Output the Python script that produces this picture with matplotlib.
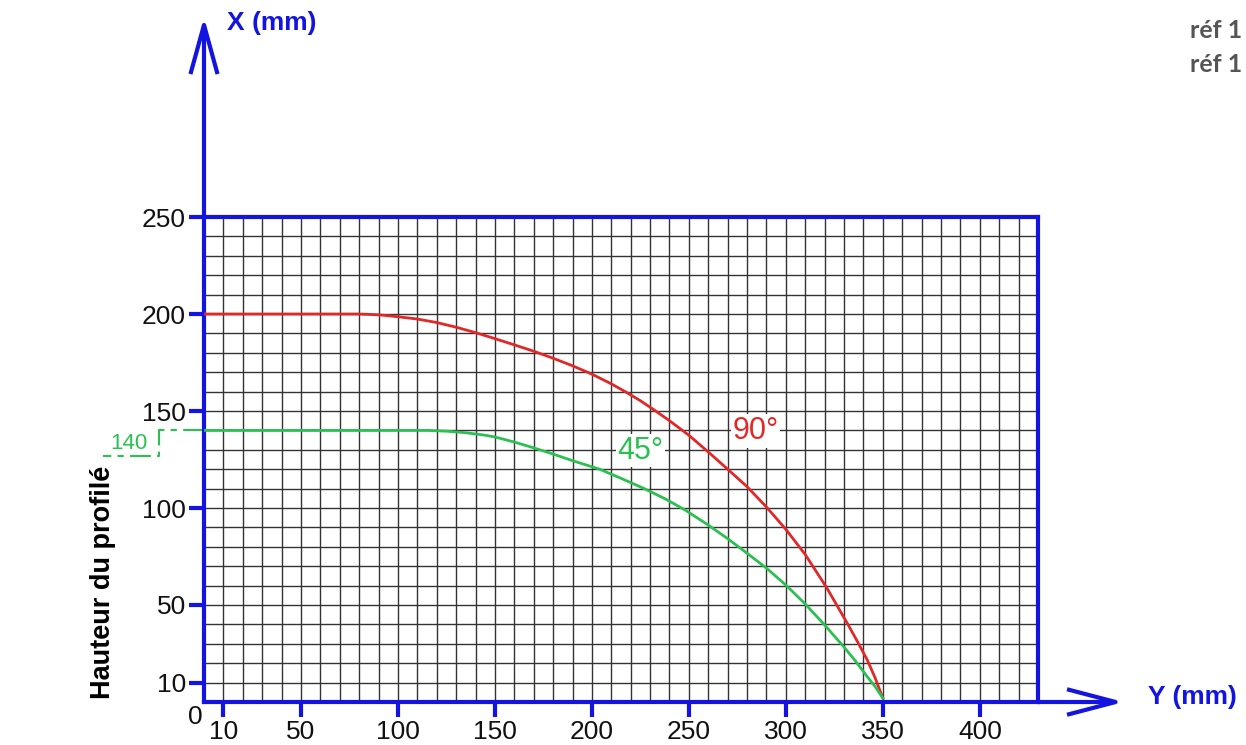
# Abaque hauteur du profilé : courbes 90° et 45°
import numpy as np
import matplotlib.pyplot as plt
from matplotlib.ticker import MultipleLocator

plt.rcParams['font.family'] = ['Liberation Sans', 'DejaVu Sans']

# courbe 90° (Y en mm, X en mm)
y_90 = [0, 40, 80, 90, 100, 110, 120, 130, 140, 150, 160, 170, 180, 190, 200, 210,
        218, 225, 232, 240, 250, 261, 270, 280, 290, 300, 310, 321, 332, 337, 342,
        346, 350]
x_90 = [200, 200, 200, 199.6, 198.6, 197.4, 195.6, 193.2, 190.4, 187.3, 184.1, 180.8,
        177.2, 173.3, 169, 164, 159.5, 155.3, 150.6, 145, 137.5, 128, 120, 111,
        100.5, 89, 76, 59, 40, 31, 21.6, 12.5, 2]

# courbe 45°
y_45 = [0, 60, 100, 115, 125, 135, 145, 150, 160, 170, 180, 190, 204, 215, 227, 238,
        248, 260, 270, 278, 290, 300, 310, 320, 330, 336, 342, 346, 350]
x_45 = [140, 140, 140, 140, 139.6, 138.8, 137.5, 136.6, 134, 131, 127.8, 124.4, 120,
        115.3, 110, 104.6, 99, 91.2, 84.2, 78.2, 69, 60.3, 50.5, 39.7, 28.3, 21, 13,
        8, 2]

xticks = [10, 50, 100, 150, 200, 250, 300, 350, 400]
yticks = [10, 50, 100, 150, 200, 250]

blue = '#1414e0'
red = '#e02828'
green = '#2cc052'

fig = plt.figure(figsize=(12.46, 7.45), dpi=100)
ax = fig.add_axes([204 / 1246, 43 / 745, 834 / 1246, 485 / 745])
ax.set_xlim(0, 430)
ax.set_ylim(0, 250)

# quadrillage tous les 10 mm
ax.xaxis.set_minor_locator(MultipleLocator(10))
ax.yaxis.set_minor_locator(MultipleLocator(10))
ax.grid(which='both', color='#333333', lw=1.0)
ax.set_axisbelow(True)
ax.tick_params(which='minor', length=0)

for s in ax.spines.values():
    s.set_color(blue)
    s.set_linewidth(3)

ax.set_xticks(xticks)
ax.set_yticks(yticks)
ax.tick_params(which='major', direction='out', color=blue, width=3, length=11,
               labelsize=19, labelcolor='#111111', pad=2)

# axes prolongés avec flèches ouvertes
ymax_arrow = 349
xmax_arrow = 470
ax.plot([0, 0], [250, ymax_arrow], color=blue, lw=3, clip_on=False, solid_capstyle='butt')
ax.plot([-6.7, 0, 6.7], [324.7, ymax_arrow, 324.7], color=blue, lw=3, clip_on=False)
ax.plot([430, xmax_arrow], [0, 0], color=blue, lw=3, clip_on=False, solid_capstyle='butt')
ax.plot([446, xmax_arrow, 446], [6.3, 0, -6.3], color=blue, lw=3, clip_on=False)

# courbes
ax.plot(y_90, x_90, color=red, lw=2, zorder=3)
ax.plot(y_45, x_45, color=green, lw=2, zorder=3)

ax.text(284.5, 139.7, '90°', color=red, fontsize=22, ha='center', va='center',
        bbox=dict(facecolor='white', edgecolor='none', pad=1), zorder=4)
ax.text(225, 129.4, '45°', color=green, fontsize=22, ha='center', va='center',
        bbox=dict(facecolor='white', edgecolor='none', pad=1), zorder=4)

# repère 140
ax.plot([0, -23.2, -23.2, -52], [140, 140, 126.8, 126.8], color=green, lw=1.5,
        dashes=(10, 3, 3, 3), clip_on=False)
ax.text(-38.5, 133.5, '140', color=green, fontsize=16, ha='center', va='center',
        clip_on=False)

ax.text(-4.6, -7.5, '0', fontsize=19, color='#111111', ha='center', va='center')

# titres des axes
ax.text(12, 350, 'X (mm)', color=blue, fontsize=19, fontweight='bold',
        ha='left', va='center')
fig.text(1148 / 1246, 1 - 697 / 745, 'Y (mm)', color=blue, fontsize=19,
         fontweight='bold', ha='left', va='center')
fig.text(103 / 1246, 1 - 582 / 745, 'Hauteur du profilé', color='black', fontsize=19.5,
         fontweight='bold', rotation=90, ha='center', va='center')

for yy in (30, 65):
    fig.text(1190 / 1246, 1 - yy / 745, 'réf 1', color='#555555', fontsize=18,
             fontweight='bold', family=['Lato', 'DejaVu Sans'], ha='left', va='center')

fig.savefig('out.png', dpi=100)
